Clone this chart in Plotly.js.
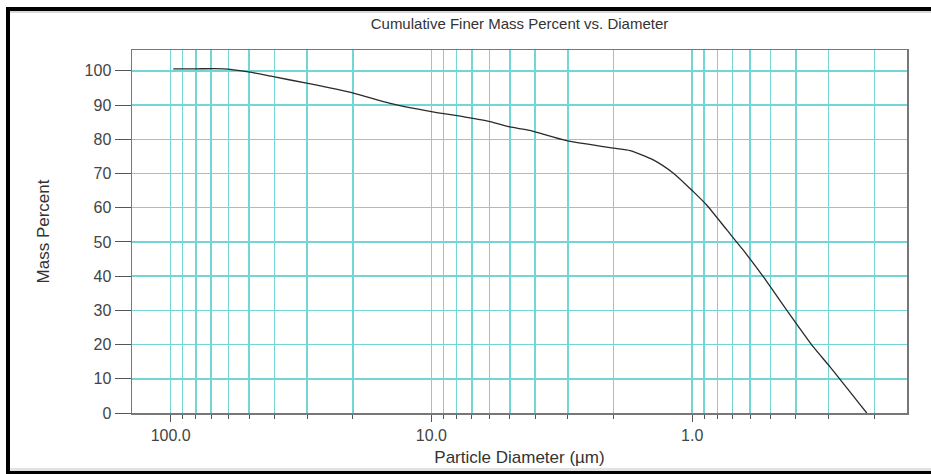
<!DOCTYPE html>
<html>
<head>
<meta charset="utf-8">
<script src="https://cdn.plot.ly/plotly-3.0.1.min.js"></script>
<style>
  html, body { margin: 0; padding: 0; background: #fff; }
  #wrap { position: relative; width: 931px; height: 474px; overflow: hidden; }
  #chart { position: absolute; left: 0; top: 0; width: 931px; height: 474px; }
  .fr { position: absolute; pointer-events: none; }
</style>
</head>
<body>
<div id="wrap">
  <div id="chart"></div>
  <div class="fr" style="left:6px;top:7px;width:4px;height:467px;background:#000;"></div>
  <div class="fr" style="left:6px;top:7px;width:925px;height:4px;background:#000;"></div>
  <div class="fr" style="left:10px;top:11px;width:921px;height:2px;background:#d8d8d8;"></div>
  <div class="fr" style="left:10px;top:468px;width:921px;height:3px;background:#e2e2e2;"></div>
  <div class="fr" style="left:6px;top:471px;width:925px;height:3px;background:#000;"></div>
</div>
<script>
// Particle diameter (µm) and cumulative finer mass percent
const diameter = [97.7, 80, 62.9, 51.1, 40.4, 30.1, 19.9, 14.4, 10.0, 7.55, 5.96, 5.0, 4.2, 3.03, 2.0, 1.73, 1.41, 1.18, 0.99, 0.88, 0.736, 0.64, 0.533, 0.434, 0.343, 0.296, 0.214];
const massPercent = [100.6, 100.6, 100.6, 99.8, 98.3, 96.4, 93.5, 90.5, 88.1, 86.6, 85.2, 83.6, 82.6, 79.6, 77.4, 76.7, 74.0, 70.1, 64.7, 60.8, 53.5, 47.8, 39.8, 30.1, 19.3, 13.5, 0.0];

const majorVals = [100, 10, 1];
const majorText = ['100.0', '10.0', '1.0'];
const minorVals = [90, 80, 70, 60, 50, 40, 30, 20, 9, 8, 7, 6, 5, 4, 3, 2, 0.9, 0.8, 0.7, 0.6, 0.5, 0.4, 0.3, 0.2];
const yTicks = [0, 10, 20, 30, 40, 50, 60, 70, 80, 90, 100];

const font = 'Liberation Sans, Arial, sans-serif';
const gridColor = '#72d6d6';

const trace = {
  x: diameter,
  y: massPercent,
  type: 'scatter',
  mode: 'lines',
  line: { color: '#2a2a2a', width: 1.3, shape: 'spline', smoothing: 0.6 },
  hoverinfo: 'x+y'
};

const layout = {
  width: 931,
  height: 474,
  margin: { l: 132, r: 24, t: 50, b: 61 },
  paper_bgcolor: 'rgba(0,0,0,0)',
  plot_bgcolor: '#fff',
  showlegend: false,
  title: {
    text: 'Cumulative Finer Mass Percent vs. Diameter',
    font: { family: font, size: 15, color: '#333' },
    x: 0.5, xref: 'paper', xanchor: 'center',
    y: 1 - 24 / 474, yref: 'container', yanchor: 'middle'
  },
  xaxis: {
    type: 'log',
    range: [Math.log10(140.7), Math.log10(0.15)],
    tickmode: 'array',
    tickvals: majorVals,
    ticktext: majorText,
    ticks: 'outside',
    ticklen: 7,
    tickcolor: '#555',
    tickfont: { family: font, size: 16, color: '#444' },
    showgrid: true,
    gridcolor: gridColor,
    gridwidth: 1.5,
    minor: {
      tickmode: 'array',
      tickvals: minorVals,
      ticks: 'outside',
      ticklen: 4,
      tickcolor: '#555',
      showgrid: true,
      gridcolor: gridColor,
      gridwidth: 1.5
    },
    showline: true,
    linecolor: '#777',
    linewidth: 1.5,
    mirror: true,
    zeroline: false,
    title: {
      text: 'Particle Diameter (µm)',
      font: { family: font, size: 17, color: '#333' },
      standoff: 8
    }
  },
  yaxis: {
    range: [0, 106.1],
    tickmode: 'array',
    tickvals: yTicks,
    ticktext: yTicks.map(String),
    ticks: 'outside',
    ticklen: 16,
    tickcolor: '#555',
    tickfont: { family: font, size: 16, color: '#444' },
    showgrid: true,
    gridcolor: gridColor,
    gridwidth: 1.5,
    showline: true,
    linecolor: '#777',
    linewidth: 1.5,
    mirror: true,
    zeroline: false,
    title: {
      text: 'Mass Percent',
      font: { family: font, size: 17, color: '#333' },
      standoff: 30
    }
  }
};

Plotly.newPlot('chart', [trace], layout, { displayModeBar: false, staticPlot: true });
</script>
</body>
</html>
